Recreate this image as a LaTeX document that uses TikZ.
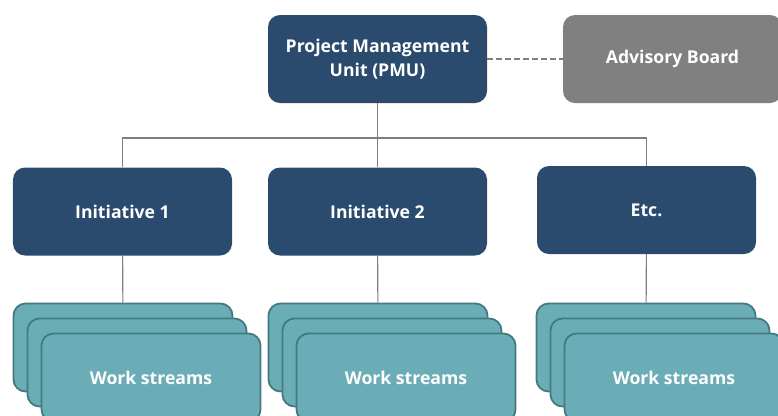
\documentclass[tikz,border=0pt]{standalone}
\usepackage{fontspec}
\setmainfont{Open Sans}
\usetikzlibrary{positioning}
\definecolor{unitblue}{HTML}{2A4A6E}
\definecolor{boardgrey}{HTML}{808080}
\definecolor{streamfill}{HTML}{6AADB6}
\definecolor{streamline}{HTML}{437A80}
\definecolor{linkgrey}{HTML}{7F7F7F}
\tikzset{
    unit/.style={fill=unitblue,text=white,rounded corners=12bp,minimum width=219bp,
                 minimum height=88bp,inner sep=0pt,align=center,font=\bfseries\fontsize{17.7}{24}\selectfont},
    board/.style={unit,fill=boardgrey},
    stream/.style={unit,fill=streamfill,draw=streamline,line width=1.8bp,minimum width=219bp},
    link/.style={draw=linkgrey,line width=1.1bp}
}

\begin{document}
\begin{tikzpicture}[x=1bp,y=-1bp]
    \clip (0,0) rectangle (778,415);
    \node[unit] (pmu) at (377.5,59) {Project Management\\Unit (PMU)};
    \node[board] (board) at (672.5,59) {Advisory Board};
    \node[unit] (ini1) at (122.5,211.5) {Initiative 1};
    \node[unit] (ini2) at (377.5,211.5) {Initiative 2};
    \node[unit] (etc) at (646.5,210) {Etc.};
    \coordinate (barL) at (122.5,138);
    \coordinate (barR) at (646.5,138);
    \foreach \n/\x in {1/123,2/378,3/646}{
        \node[stream] (ws\n a) at (\x,347.5) {};
        \node[stream] (ws\n b) at (\x+14,362.5) {};
        \node[stream] (ws\n c) at (\x+28,377.5) {Work streams};
    }
    \draw[link,dash pattern=on 6bp off 3bp] (pmu) -- (board);
    \draw[link] (pmu) -- (ini2);
    \draw[link] (ini1) -- (barL) -- (barR) -- (etc);
    \draw[link] (ini1) -- (ws1a);
    \draw[link] (ini2) -- (ws2a);
    \draw[link] (etc) -- (ws3a);
\end{tikzpicture}
\end{document}
